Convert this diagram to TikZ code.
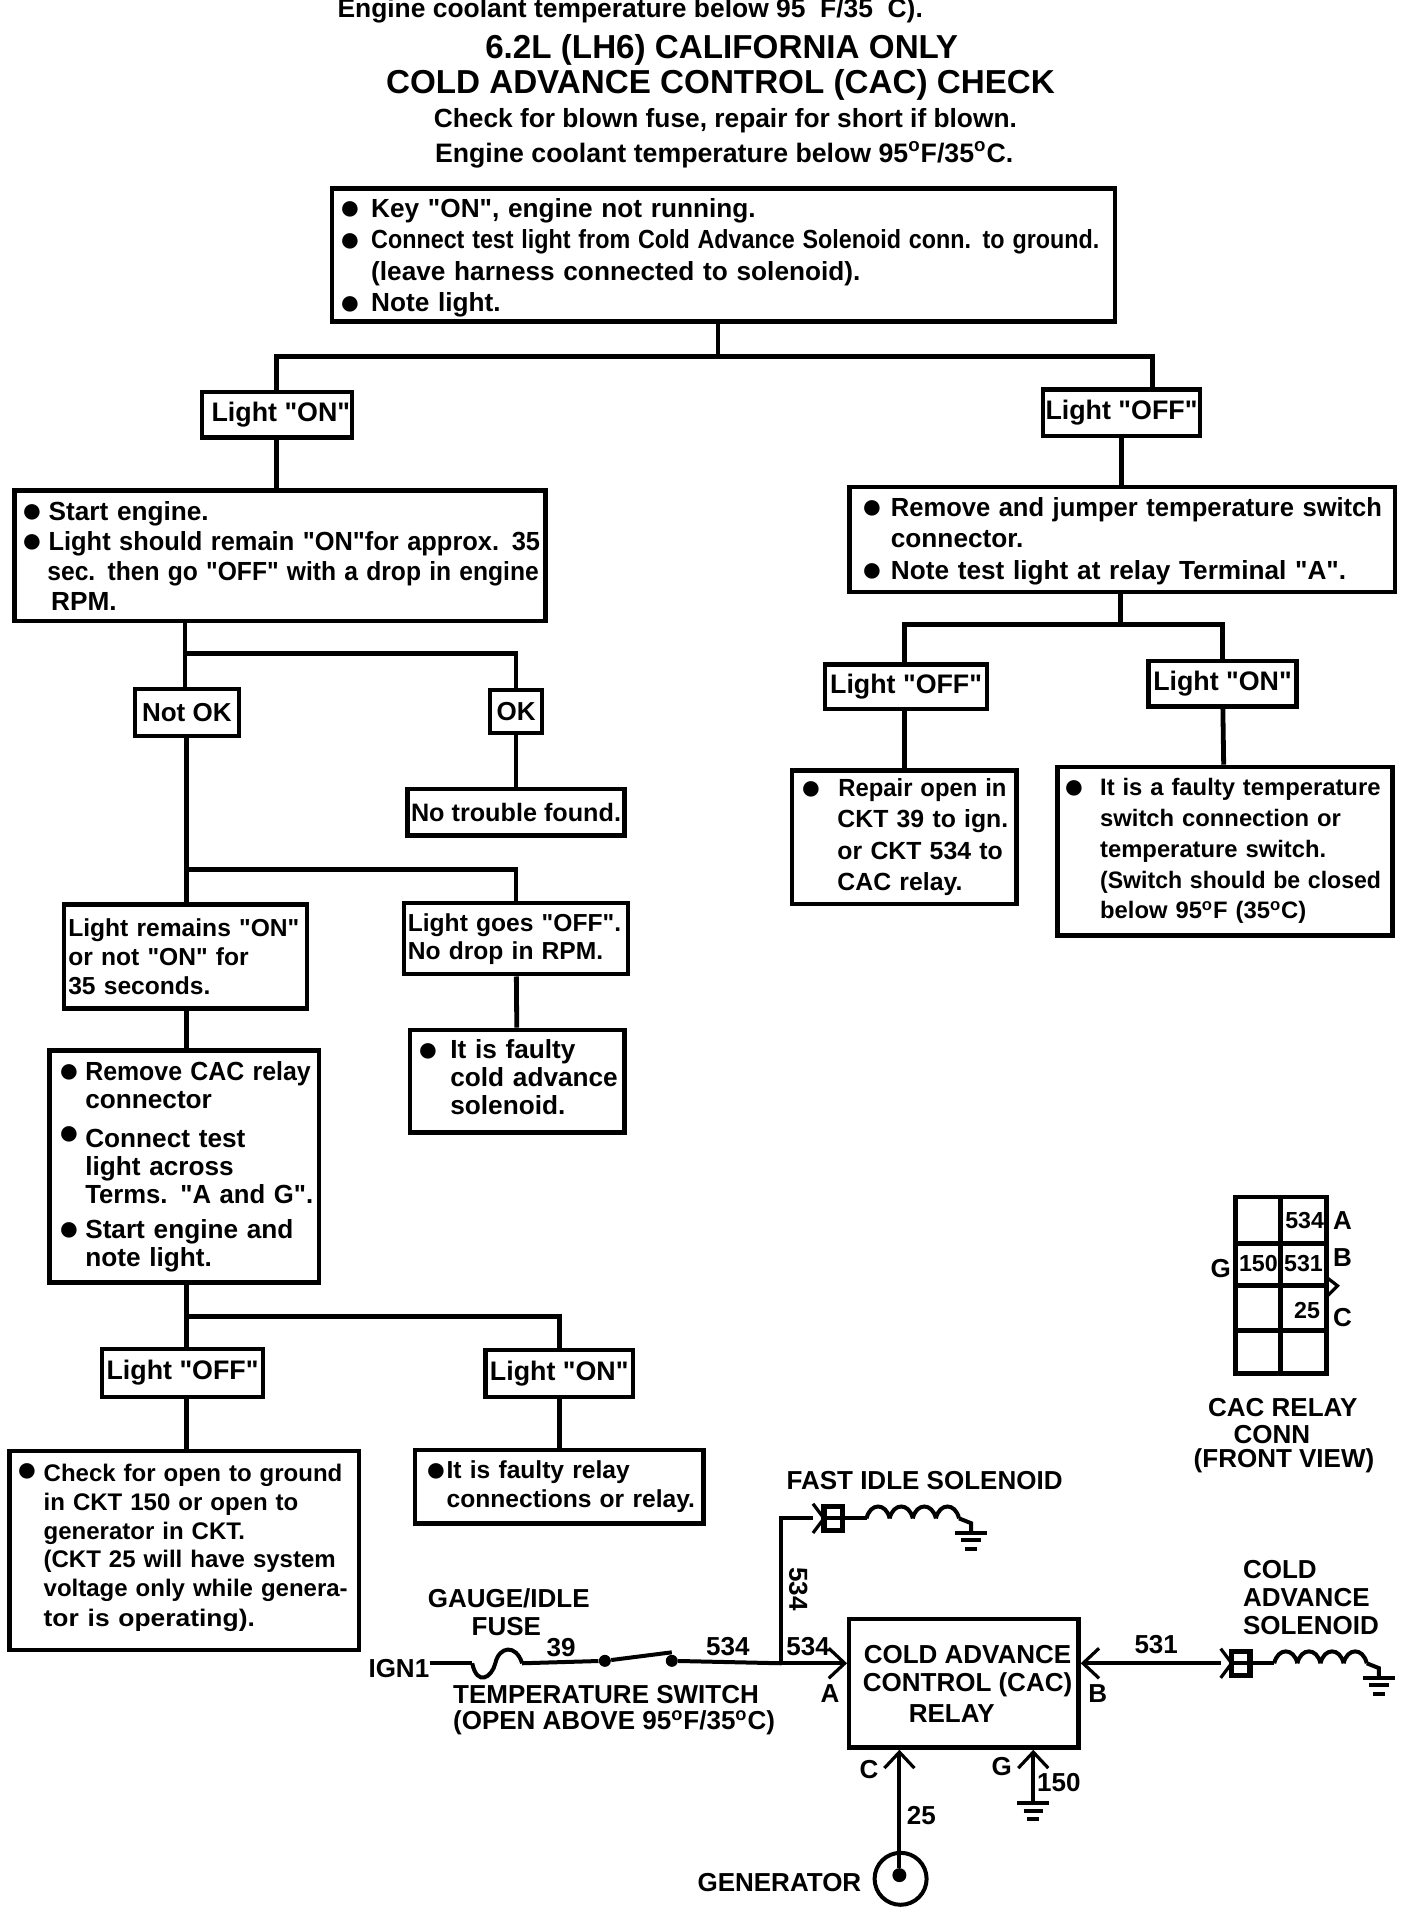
\documentclass[tikz,border=0pt]{standalone}
\usetikzlibrary{arrows.meta,positioning}
\usepackage{fontspec}
\setmainfont[UprightFont=* Bold,BoldFont=* Bold,Ligatures=TeXOff]{Liberation Sans}
\newcommand{\fs}[2]{\fontsize{#1}{#2}\selectfont}
\newcommand{\bu}[2]{\hspace*{\dimexpr#1-1.3pt\relax}\makebox[\dimexpr#2-#1+1.3pt\relax][l]{\raisebox{-1.3pt}[0pt][0pt]{\fs{18}{18}●}}}
\newcommand{\ind}[1]{\hspace*{#1}}
\newcommand{\dg}{\textsuperscript{o}}
\newcommand{\sx}[2]{\scalebox{#1}[1]{#2}}
\newcommand{\up}[1]{\rule[-#1]{0pt}{#1}}
\newcommand{\dn}[1]{\rule{0pt}{#1}}

\tikzset{
  bx/.style={draw,line width=2.2pt,inner ysep=0pt,inner xsep=2pt,align=left,font=\fs{13.1}{#1}},
  bx/.default=15.7,
  lightbox/.style={draw,line width=2.2pt,inner sep=0pt,align=center,font=\fs{13.4}{15}},
  okbox/.style={lightbox,font=\fs{13}{15}},
  link/.style={line width=2.4pt},
  wire/.style={line width=2pt},
  lbl/.style={inner sep=0pt,font=\fs{13}{15}},
  sub/.style={inner sep=0pt,font=\fs{13.35}{15}},
  hd/.style={inner sep=0pt,font=\fs{16.6}{18}},
  into/.style={-{Straight Barb[length=8pt,width=15pt,line width=1.6pt]}},
  ground/.pic={
    \draw[wire] (-13,0) -- (13,0);
    \draw[wire] (-8,6) -- (8,6);
    \draw[wire] (-5,13) -- (5,13);
  },
  solenoid/.pic={
    \draw[line width=1.6pt] (0,-12) -- (9,0) -- (0,12);
    \draw[line width=2.6pt] (9,-10) rectangle (24,10);
    \draw[wire] (9,0) -- (24,0) -- (44,0);
    \foreach \k in {0,1,2,3}
      \draw[wire] ({44+19*\k},0) .. controls ({47+19*\k},-13) and ({60+19*\k},-13) .. ({63+19*\k},0);
    \draw[wire] (120,0) -- (130,4) -- (130,12);
    \pic at (130,12) {ground};
  }
}

\begin{document}
\begin{tikzpicture}[x=0.6085pt,y=-0.6088pt]
  \useasboundingbox (0,0) rectangle (1157,1567);

  % heading
  \node[sub,anchor=west,font=\fs{13.2}{15}] (note) at (277,9) {Engine coolant temperature below 95\ \ F/35\ \ C).};
  \node[hd] (title1) at (593,41) {6.2L (LH6) CALIFORNIA ONLY};
  \node[hd] (title2) at (592,70) {COLD ADVANCE CONTROL (CAC) CHECK};
  \node[sub,font=\fs{13.15}{15}] (sub1) at (596,99) {Check for blown fuse, repair for short if blown.};
  \node[sub] (sub2) at (595,127) {Engine coolant temperature below 95\dg F/35\dg C.};

  % flow chart
  \node[bx,text width=387.5pt,minimum height=66.6pt] (keyon) at (594.5,209.5) {\dn{12pt}\bu{3pt}{17.6pt}Key "ON", engine not running.\\
    \bu{3pt}{17.6pt}\sx{.89}{Connect test light from Cold Advance Solenoid conn. to ground.}\\
    \ind{17.6pt}(leave harness connected to solenoid).\\
    \bu{3pt}{17.6pt}Note light.};
  \node[lightbox,minimum width=75.1pt,minimum height=22.8pt] (lon) at (227.5,340.5) {\hspace*{4pt}Light "ON"};
  \node[lightbox,minimum width=78.7pt,minimum height=23.4pt] (loff) at (921.5,339) {Light "OFF"};
  \node[bx=15,text width=261.5pt,minimum height=65.4pt] (start) at (230,456.5) {\bu{3pt}{15.1pt}Start engine.\\
    \bu{3pt}{15.1pt}\rlap{\sx{.97}{Light should remain "ON"for approx. 35}}\\
    \ind{14.5pt}\rlap{\sx{.94}{sec. then go "OFF" with a drop in engine}}\\
    \ind{16.4pt}RPM.};
  \node[bx,text width=268.8pt,minimum height=52.6pt] (jumper) at (922,443) {\dn{11pt}\bu{5.4pt}{18.8pt}\sx{.975}{Remove and jumper temperature switch}\\
    \ind{18.8pt}connector.\\
    \bu{5.4pt}{18.8pt}Note test light at relay Terminal "A".};
  \node[okbox,minimum width=52pt,minimum height=23.4pt] (notok) at (153.5,585) {Not OK};
  \node[okbox,minimum width=25.8pt,minimum height=21.5pt] (ok) at (424,584.5) {OK};
  \node[okbox,font=\fs{12.6}{15},minimum width=108.5pt,minimum height=23.4pt] (notrouble) at (424,667) {No trouble found.};
  \node[lightbox,minimum width=81.2pt,minimum height=22.2pt] (loff2) at (744.5,564) {Light "OFF"};
  \node[lightbox,minimum width=73.9pt,minimum height=22.8pt] (lon2) at (1004.5,561.5) {Light "ON"};
  \node[bx,text width=108.2pt,minimum height=66.6pt,font=\fs{12.4}{15.7}] (repair) at (743,687.5) {\bu{3.6pt}{21.2pt}\rlap{\sx{.96}{Repair open in}}\\
    \ind{20.7pt}CKT 39 to ign.\\
    \ind{20.7pt}or CKT 534 to\\
    \ind{20.7pt}CAC relay.};
  \node[bx,text width=163.6pt,minimum height=84.2pt,font=\fs{11.9}{15.4}] (tswitch) at (1006.5,699) {\bu{2.4pt}{19.4pt}It is a faulty temperature\\
    \ind{19.4pt}switch connection or\\
    \ind{19.4pt}temperature switch.\\
    \ind{19.4pt}\rlap{\sx{.97}{(Switch should be closed}}\\
    \ind{19.4pt}below 95\dg F (35\dg C)};
  \node[bx=14.4,text width=117.3pt,minimum height=52pt,font=\fs{12.3}{14.4}] (remains) at (152.5,785.5) {\rlap{Light remains "ON"}\\or not "ON" for\\35 seconds.};
  \node[bx=14,text width=108.2pt,minimum height=35.5pt,font=\fs{12.3}{14}] (goes) at (424,771) {\rlap{Light goes "OFF".}\\No drop in RPM.};
  \node[bx=14,text width=103.3pt,minimum height=51.4pt] (solbad) at (425,888) {\bu{3pt}{18.2pt}It is faulty\\
    \ind{18.2pt}cold advance\\
    \ind{18.2pt}solenoid.\up{4pt}};
  \node[bx=14,text width=130.7pt,minimum height=115.9pt] (cacconn) at (151.5,958) {\bu{3.6pt}{15.8pt}\sx{.95}{Remove CAC relay}\\
    \ind{15.8pt}connector\\[5.5pt]
    \raisebox{2.5pt}{\bu{3.6pt}{15.8pt}}Connect test\\
    \ind{15.8pt}light across\\
    \ind{15.8pt}\rlap{\sx{.98}{Terms. "A and G".}}\\[3.5pt]
    \bu{3.6pt}{15.8pt}Start engine and\\
    \ind{15.8pt}note light.};
  \node[lightbox,minimum width=80.6pt,minimum height=24pt] (loff3) at (150,1127.5) {Light "OFF"};
  \node[lightbox,minimum width=73.9pt,minimum height=23.4pt] (lon3) at (459.5,1128) {Light "ON"};
  \node[bx=14.3,text width=170.9pt,minimum height=99.5pt,font=\fs{12}{14.3}] (opencheck) at (151.5,1273.5) {\raisebox{1.5pt}{\bu{3pt}{15.1pt}}Check for open to ground\\
    \ind{15.1pt}in CKT 150 or open to\\
    \ind{15.1pt}generator in CKT.\\
    \ind{15.1pt}(CKT 25 will have system\\
    \ind{15.1pt}\rlap{voltage only while genera-}\\[1pt]
    \ind{15.1pt}\sx{1.1}{tor is operating).}\up{5pt}};
  \node[bx=14.6,text width=140.4pt,minimum height=36.8pt,font=\fs{12.3}{14.6}] (relaybad) at (459.5,1221) {\bu{4.8pt}{13.9pt}It is faulty relay\\
    \ind{13.9pt}\rlap{connections or relay.}};

  \coordinate (keyj) at (590,293);
  \coordinate (offin) at (947,318);
  \coordinate (startj) at (152,537);
  \coordinate (nokj) at (153,714);
  \coordinate (cacj) at (153,1081);
  \coordinate (jumpj) at (921,513);
  \draw[link] (keyon.south -| keyj) -- (keyj);
  \draw[link] (keyj) -| (lon.north);
  \draw[link] (keyj) -| (offin);
  \draw[link] (lon.south) -- (lon.south |- start.north);
  \draw[link] (loff.south) -- (loff.south |- jumper.north);
  \draw[link] (start.south -| startj) -- (startj |- notok.north);
  \draw[link] (startj) -| (ok.north);
  \draw[link] (ok) -- (notrouble);
  \draw[link] (notok.south -| nokj) -- (nokj |- remains.north);
  \draw[link] (nokj) -| (goes.north);
  \draw[link] (remains.south -| nokj) -- (nokj |- cacconn.north);
  \draw[link] (goes) -- (solbad);
  \draw[link] (cacconn.south -| cacj) -- (cacj |- loff3.north);
  \draw[link] (cacj) -| (lon3.north);
  \draw[link] (loff3.south -| cacj) -- (cacj |- opencheck.north);
  \draw[link] (lon3) -- (relaybad);
  \draw[link] (jumper.south -| jumpj) -- (jumpj);
  \draw[link] (jumpj) -| (loff2.north -| repair);
  \draw[link] (jumpj) -| (lon2.north);
  \draw[link] (loff2.south -| repair) -- (repair.north);
  \draw[link] (lon2) -- (tswitch);

  % relay connector, front view
  \draw[link] (1015,983) rectangle (1090,1128);
  \draw[link] (1052,983) -- (1052,1128);
  \foreach \y in {1021,1056,1093}
    \draw[link] (1015,\y) -- (1090,\y);
  \draw[line width=1.6pt] (1090,1049) -- (1099,1056) -- (1090,1065);
  \node[lbl,font=\fs{11.6}{15}] (c534) at (1072,1002) {534};
  \node[lbl,font=\fs{11.6}{15}] (c150) at (1034,1038) {150};
  \node[lbl,font=\fs{11.6}{15}] (c531) at (1071,1038) {531};
  \node[lbl,font=\fs{11.6}{15}] (c25) at (1074,1076) {25};
  \node[lbl] (pinA) at (1103,1002) {A};
  \node[lbl] (pinB) at (1103,1033) {B};
  \node[lbl] (pinC) at (1103,1082) {C};
  \node[lbl] (pinG) at (1003,1042) {G};
  \node[lbl] (conn1) at (1054,1156) {CAC RELAY};
  \node[lbl] (conn2) at (1045,1178) {CONN};
  \node[lbl] (conn3) at (1055,1200) {(FRONT VIEW)};

  % wiring
  \node[lightbox,minimum width=114.6pt,minimum height=64.2pt] (relay) at (792,1382.5) {};
  \node[lbl,align=center,font=\fs{13}{14}] (relay1) at (795,1372.5) {COLD ADVANCE\\CONTROL (CAC)};
  \node[lbl] (relay2) at (782,1407) {RELAY};
  \node[lbl,anchor=east] (ign) at (353,1370) {IGN1};
  \coordinate (fuse1) at (388,1366);
  \coordinate (fuse2) at (429,1366);
  \node[circle,fill,inner sep=0pt,minimum size=6pt] (sw1) at (497,1364) {};
  \node[circle,fill,inner sep=0pt,minimum size=6pt] (sw2) at (552,1364) {};
  \coordinate (swj) at (642,1366);
  \coordinate (fisin) at (668,1247);
  \coordinate (casin) at (1003,1366);
  \draw[wire] (ign.east |- fuse1) -- (fuse1);
  \draw[wire] (fuse1) .. controls (392,1385) and (404,1378) .. (407,1366) .. controls (410,1352) and (424,1350) .. (fuse2);
  \draw[wire] (fuse2) -- (sw1);
  \draw[wire] (sw1) -- (sw2 |- 0,1357);
  \draw[wire] (sw2) -- (swj);
  \draw[wire,into] (swj) -- (relay.west |- swj);
  \draw[wire] (swj) |- (fisin);
  \draw[wire,into] (casin) -- (relay.east |- casin);
  \pic at (fisin) {solenoid};
  \pic at (casin) {solenoid};
  \node[circle,draw,line width=2pt,inner sep=0pt,minimum size=26pt] (gen) at (740,1543) {};
  \node[circle,fill,inner sep=0pt,minimum size=7pt] (gendot) at (739,1540) {};
  \draw[wire,into] (gendot) -- (relay.south -| gendot);
  \coordinate (gnd) at (849,1481);
  \draw[wire,into] (gnd) -- (relay.south -| gnd);
  \pic at (gnd) {ground};

  \node[lbl] (w39) at (461,1353) {39};
  \node[lbl] (w534a) at (598,1352) {534};
  \node[lbl] (w534b) at (664,1352) {534};
  \node[lbl,rotate=-90] (w534c) at (656,1305) {534};
  \node[lbl] (w531) at (950,1351) {531};
  \node[lbl] (w150) at (870,1464) {150};
  \node[lbl] (w25) at (757,1491) {25};
  \node[lbl] (termA) at (682,1391) {A};
  \node[lbl] (termB) at (902,1391) {B};
  \node[lbl] (termC) at (714,1453) {C};
  \node[lbl] (termG) at (823,1451) {G};
  \node[lbl] (fuse3) at (418,1313) {GAUGE/IDLE};
  \node[lbl] (fuse4) at (416,1336) {FUSE};
  \node[lbl,anchor=west] (tsw1) at (372,1392) {TEMPERATURE SWITCH};
  \node[lbl,anchor=west] (tsw2) at (372,1415) {(OPEN ABOVE 95\dg F/35\dg C)};
  \node[lbl,anchor=west] (fis) at (646,1216) {FAST IDLE SOLENOID};
  \node[lbl,anchor=west] (cas1) at (1021,1289) {COLD};
  \node[lbl,anchor=west] (cas2) at (1021,1312) {ADVANCE};
  \node[lbl,anchor=west] (cas3) at (1021,1335) {SOLENOID};
  \node[lbl,anchor=east] (genlbl) at (708,1546) {GENERATOR};
\end{tikzpicture}
\end{document}
